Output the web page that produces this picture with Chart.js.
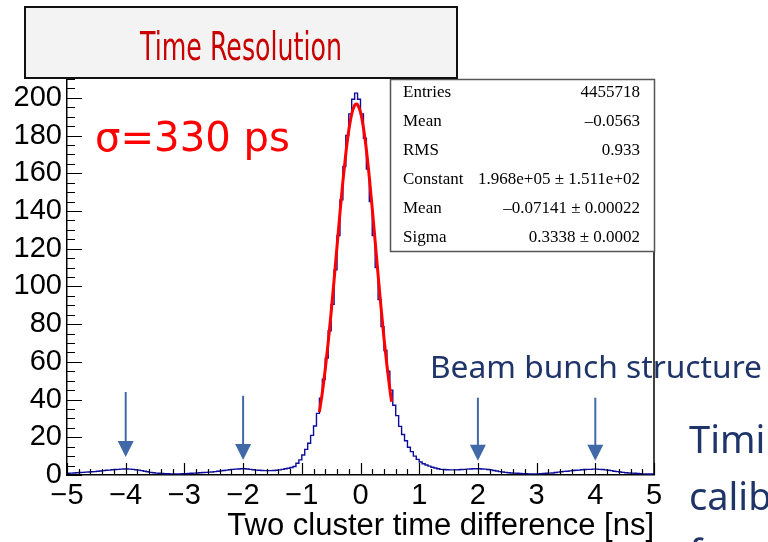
<!DOCTYPE html>
<html>
<head>
<meta charset="utf-8">
<script src="https://cdn.jsdelivr.net/npm/chart.js@4.4.1/dist/chart.umd.min.js"></script>
<style>
  html, body { margin: 0; padding: 0; background: #fff; }
  canvas { display: block; }
</style>
</head>
<body>
<canvas id="myChart" width="768" height="542"></canvas>
<script>
// histogram: 200 bins of 0.05 ns from -5 to 5 (entries in units of 10^3)
const binStart = -5;
const binWidth = 0.05;
const counts = [
  0.9, 1.0, 1.1, 1.2, 1.3, 1.4, 1.5, 1.6, 1.7, 1.8,
  2.0, 2.1, 2.3, 2.5, 2.6, 2.8, 2.9, 3.0, 3.1, 3.2,
  3.2, 3.1, 3.0, 2.8, 2.6, 2.3, 2.0, 1.7, 1.4, 1.2,
  1.0, 0.9, 0.8, 0.7, 0.7, 0.6, 0.6, 0.6, 0.6, 0.7,
  0.7, 0.8, 0.9, 1.0, 1.1, 1.2, 1.3, 1.4, 1.5, 1.6,
  1.8, 2.0, 2.2, 2.4, 2.6, 2.8, 3.0, 3.1, 3.2, 3.3,
  3.3, 3.2, 3.0, 2.8, 2.6, 2.5, 2.4, 2.3, 2.3, 2.3,
  2.4, 2.5, 2.7, 3.0, 3.3, 3.6, 4.0, 4.5, 6.2, 8.0,
  10.6, 13.6, 16.8, 21.0, 26.0, 32.7, 40.7, 50.8, 62.0, 76.5,
  90.5, 108.8, 127.0, 145.9, 163.6, 180.0, 191.5, 199.3, 202.5, 199.3,
  191.5, 178.6, 162.3, 145.0, 127.0, 110.0, 93.0, 78.7, 66.0, 55.0,
  45.0, 37.0, 31.5, 25.8, 21.5, 18.2, 14.7, 12.4, 10.0, 8.3,
  6.9, 6.0, 5.3, 4.7, 4.1, 3.7, 3.3, 3.0, 2.9, 2.8,
  2.7, 2.7, 2.7, 2.8, 2.9, 3.0, 3.1, 3.2, 3.3, 3.3,
  3.3, 3.2, 3.1, 2.9, 2.7, 2.4, 2.1, 1.8, 1.6, 1.4,
  1.2, 1.1, 1.0, 0.9, 0.8, 0.7, 0.7, 0.6, 0.6, 0.6,
  0.6, 0.7, 0.8, 0.9, 1.0, 1.1, 1.3, 1.5, 1.7, 1.9,
  2.0, 2.2, 2.4, 2.5, 2.6, 2.8, 2.9, 3.0, 3.0, 3.1,
  3.1, 3.0, 2.9, 2.7, 2.5, 2.3, 2.0, 1.8, 1.6, 1.4,
  1.2, 1.1, 1.0, 0.9, 0.8, 0.7, 0.6, 0.6, 0.5, 0.5
];

// gaussian fit curve
const fitX = [-0.70, -0.65, -0.60, -0.55, -0.50, -0.45, -0.40, -0.35, -0.30, -0.25, -0.20, -0.15, -0.10, -0.07,
  -0.05, 0.00, 0.05, 0.10, 0.15, 0.20, 0.25, 0.30, 0.35, 0.40, 0.45, 0.50, 0.53];
const fitY = [33.4, 43.8, 56.2, 70.4, 86.3, 103.4, 121.2, 138.9, 155.7, 170.5, 182.7, 191.4, 196.1, 196.8,
  196.4, 192.4, 184.2, 172.5, 157.9, 141.4, 123.8, 106.0, 88.7, 72.6, 58.1, 45.5, 38.8];

// beam bunch arrows (x position, tail and tip heights in axis units)
const arrowX = [-4, -2, 2, 4];
const arrowTop = [44, 42, 41, 41];
const arrowTip = [9.5, 8, 7.5, 7.5];

const statsLabels = ['Entries', 'Mean', 'RMS', 'Constant', 'Mean', 'Sigma'];
const statsValues = ['4455718', '\u20130.0563', '0.933', '1.968e+05 \u00b1 1.511e+02', '\u20130.07141 \u00b1 0.00022', '0.3338 \u00b1 0.0002'];

const histPoints = counts.map((c, i) => ({ x: binStart + i * binWidth, y: c }));
histPoints.push({ x: binStart + counts.length * binWidth, y: counts[counts.length - 1] });

const fmt = v => (v < 0 ? '\u2212' + Math.abs(v) : String(v));

// draws text squeezed/stretched to a given width
function fitText(ctx, text, x, y, font, width) {
  ctx.font = font;
  const w = ctx.measureText(text).width;
  ctx.save();
  ctx.translate(x, y);
  ctx.scale(width / w, 1);
  ctx.textAlign = 'left';
  ctx.fillText(text, 0, 0);
  ctx.restore();
}

const rootFrame = {
  id: 'rootFrame',
  afterDatasetsDraw(chart) {
    const { ctx, chartArea: a, scales: { x, y } } = chart;
    ctx.save();
    ctx.strokeStyle = '#000';
    ctx.lineWidth = 1.2;
    ctx.beginPath();
    for (let i = 0; i <= 50; i++) {
      const v = -5 + i * 0.2;
      const px = Math.round(x.getPixelForValue(v)) + 0.5;
      const len = i % 5 === 0 ? 12 : 6;
      ctx.moveTo(px, a.bottom);
      ctx.lineTo(px, a.bottom - len);
    }
    for (let v = 0; v <= 210; v += 5) {
      const py = Math.round(y.getPixelForValue(v)) + 0.5;
      const len = v % 20 === 0 ? 15 : 8;
      ctx.moveTo(a.left, py);
      ctx.lineTo(a.left + len, py);
    }
    ctx.stroke();
    ctx.lineWidth = 1.5;
    ctx.beginPath();
    ctx.moveTo(a.right, a.top);
    ctx.lineTo(a.right, a.bottom);
    ctx.stroke();

    // arrows
    ctx.strokeStyle = '#4169a8';
    ctx.fillStyle = '#4169a8';
    ctx.lineWidth = 2;
    arrowX.forEach((v, i) => {
      const px = x.getPixelForValue(v);
      const top = y.getPixelForValue(arrowTop[i]);
      const tip = y.getPixelForValue(arrowTip[i]);
      ctx.beginPath();
      ctx.moveTo(px, top);
      ctx.lineTo(px, tip - 12);
      ctx.stroke();
      ctx.beginPath();
      ctx.moveTo(px - 8, tip - 16);
      ctx.lineTo(px + 8, tip - 16);
      ctx.lineTo(px, tip);
      ctx.closePath();
      ctx.fill();
    });
    ctx.restore();
  },
  afterDraw(chart) {
    const { ctx } = chart;
    ctx.save();
    // stats box
    ctx.fillStyle = '#fff';
    ctx.fillRect(390, 79, 265, 173);
    ctx.strokeStyle = '#555';
    ctx.lineWidth = 1.5;
    ctx.strokeRect(390.5, 79.5, 264, 172);
    ctx.fillStyle = '#000';
    ctx.font = '17px "Liberation Serif"';
    ctx.textBaseline = 'alphabetic';
    statsLabels.forEach((t, i) => {
      const by = 97 + i * 28.9;
      ctx.textAlign = 'left';
      ctx.fillText(t, 403, by);
      ctx.textAlign = 'right';
      ctx.fillText(statsValues[i], 640, by);
    });

    // title box
    ctx.fillStyle = '#f3f3f3';
    ctx.fillRect(25, 7, 432, 71);
    ctx.strokeStyle = '#111';
    ctx.lineWidth = 2;
    ctx.strokeRect(25, 7, 432, 71);
    ctx.fillStyle = '#c80000';
    fitText(ctx, 'Time Resolution', 140, 60, '39px "DejaVu Sans"', 202);

    ctx.fillStyle = '#ff0000';
    fitText(ctx, '\u03c3=330 ps', 95, 151, '41px "DejaVu Sans"', 195);

    ctx.fillStyle = '#1f3469';
    fitText(ctx, 'Beam bunch structure', 430, 378, '30px "Noto Sans"', 332);
    ctx.fillStyle = '#1f3469';
    ctx.font = '38px "Noto Sans"';
    ctx.textAlign = 'left';
    ctx.fillText('Timing', 689, 453);
    ctx.fillText('calibration', 689, 510);
    ctx.fillText('for', 689, 567);
    ctx.restore();
  }
};

const ctx = document.getElementById('myChart').getContext('2d');
const myChart = new Chart(ctx, {
  type: 'line',
  data: {
    datasets: [
      {
        label: 'fit',
        data: fitX.map((v, i) => ({ x: v, y: fitY[i] })),
        borderColor: '#ff0000',
        borderWidth: 3,
        pointRadius: 0,
        cubicInterpolationMode: 'monotone'
      },
      {
        label: 'histogram',
        data: histPoints,
        borderColor: '#0c0c9e',
        borderWidth: 1.4,
        pointRadius: 0,
        stepped: true
      }
    ]
  },
  options: {
    responsive: false,
    animation: false,
    devicePixelRatio: 1,
    layout: { padding: { top: 79, right: 114, left: 0, bottom: 0 } },
    plugins: { legend: { display: false }, tooltip: { enabled: false } },
    scales: {
      x: {
        type: 'linear',
        min: -5,
        max: 5,
        grid: { display: false, drawTicks: false },
        border: { color: '#000', width: 1.5 },
        ticks: {
          stepSize: 1,
          padding: 4,
          maxRotation: 0,
          autoSkip: false,
          color: '#000',
          font: { family: '"Liberation Sans"', size: 29 },
          callback: v => fmt(v)
        },
        title: {
          display: true,
          text: 'Two cluster time difference [ns]',
          align: 'end',
          color: '#000',
          padding: { top: 0, bottom: -3 },
          font: { family: '"Liberation Sans"', size: 31 }
        },
        afterFit: s => { s.height = 67; }
      },
      y: {
        min: 0,
        max: 210,
        grid: { display: false, drawTicks: false },
        border: { color: '#000', width: 1.5 },
        ticks: {
          stepSize: 20,
          includeBounds: false,
          padding: 5,
          color: '#000',
          font: { family: '"Liberation Sans"', size: 29 }
        },
        afterFit: s => { s.width = 67; }
      }
    }
  },
  plugins: [rootFrame]
});
</script>
</body>
</html>
